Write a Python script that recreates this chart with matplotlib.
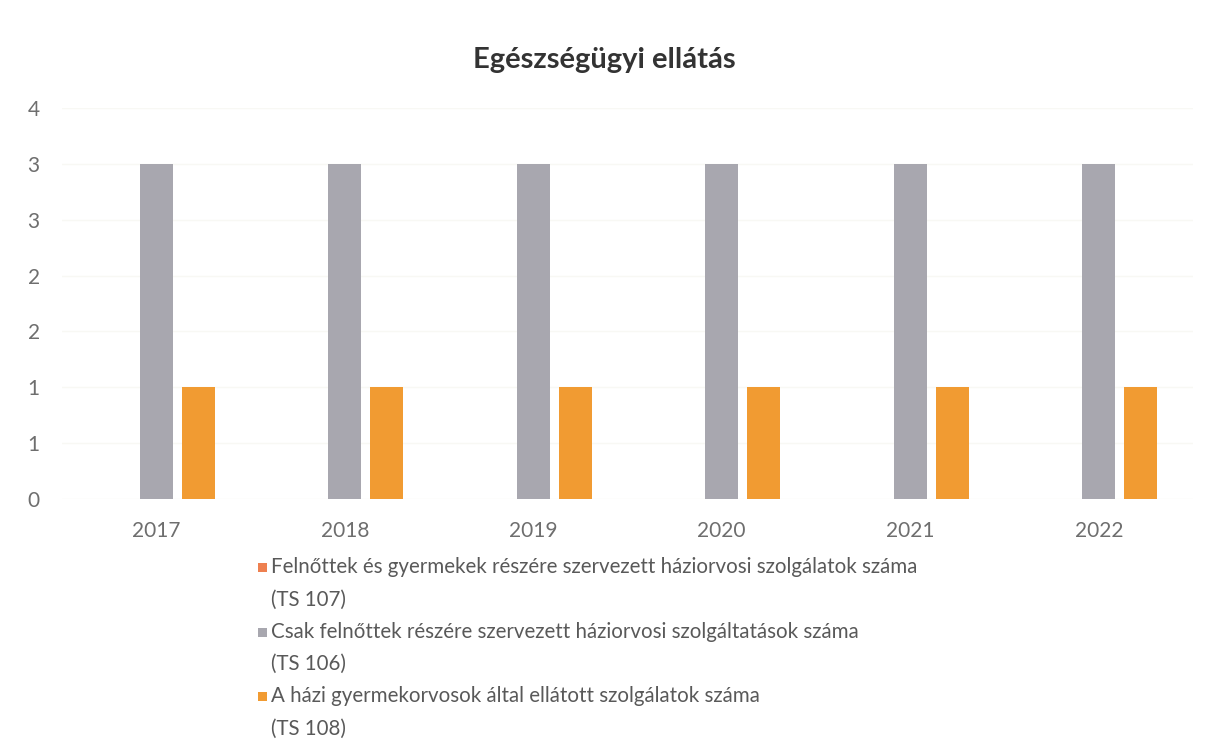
import numpy as np
import matplotlib.pyplot as plt
from matplotlib.patches import Rectangle
from matplotlib.ticker import FuncFormatter, MultipleLocator

plt.rcParams["font.family"] = ["Lato", "DejaVu Sans"]

years = ["2017", "2018", "2019", "2020", "2021", "2022"]
series_names = [
    "Felnőttek és gyermekek részére szervezett háziorvosi szolgálatok száma\n(TS 107)",
    "Csak felnőttek részére szervezett háziorvosi szolgáltatások száma\n(TS 106)",
    "A házi gyermekorvosok által ellátott szolgálatok száma\n(TS 108)",
]
ts107 = [0, 0, 0, 0, 0, 0]
ts106 = [3, 3, 3, 3, 3, 3]
ts108 = [1, 1, 1, 1, 1, 1]

colors = ["#EE8050", "#A8A7AF", "#F19B32"]
text_color = "#595959"
W, H = 1208, 740

fig = plt.figure(figsize=(W / 100, H / 100), dpi=100)
ax = fig.add_axes([62 / W, 1 - 499 / H, (1193 - 62) / W, (499 - 108) / H])

x = np.arange(len(years))
width = 0.175
offset = 0.223
for i, vals in enumerate([ts107, ts106, ts108]):
    ax.bar(x + (i - 1) * offset, vals, width, color=colors[i], zorder=3)

ax.set_xlim(-0.5, len(years) - 0.5)
ax.set_ylim(0, 3.5)
ax.yaxis.set_major_locator(MultipleLocator(0.5))
# Excel-style rounding of the 0.5 steps to whole numbers
ax.yaxis.set_major_formatter(FuncFormatter(lambda v, p: f"{int(np.floor(v + 0.5))}"))
ax.set_xticks(x)
ax.set_xticklabels(years)
ax.tick_params(axis="both", length=0, labelsize=15, labelcolor="#6e6e6e")
ax.tick_params(axis="y", pad=16)
ax.tick_params(axis="x", pad=16)
ax.grid(axis="y", color="#F8F8F4", linewidth=1, zorder=0)
for s in ax.spines.values():
    s.set_visible(False)

fig.text(0.5, 1 - 60 / H, "Egészségügyi ellátás", ha="center", va="center",
         fontsize=21, fontweight="bold", color="#333333")

# legend, Excel style: small square next to the first line of each entry
for i, (name, c) in enumerate(zip(series_names, colors)):
    y_top = 557 + i * 64.5
    fig.patches.append(Rectangle((258 / W, 1 - (y_top + 15) / H), 9 / W, 9 / H,
                                 facecolor=c, edgecolor="none",
                                 transform=fig.transFigure, figure=fig))
    fig.text(271 / W, 1 - y_top / H, name, ha="left", va="top", fontsize=14.8,
             color=text_color, linespacing=1.8)

fig.savefig("out.png", dpi=100, facecolor="white")
